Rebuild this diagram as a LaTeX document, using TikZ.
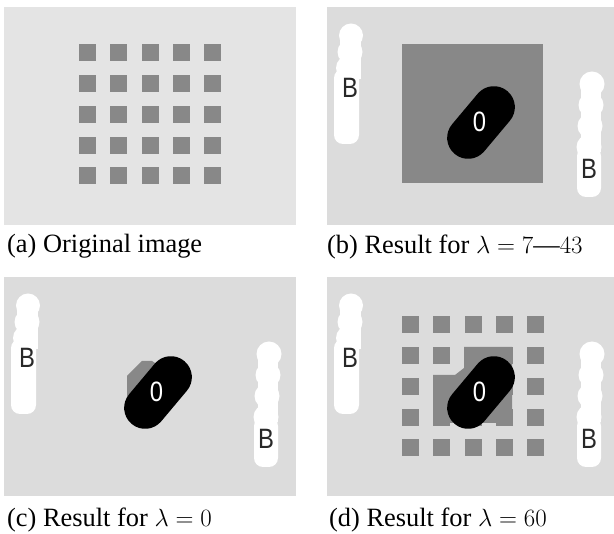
\documentclass[tikz,border=0pt]{standalone}
\usepackage{fontspec}
\setmainfont{Liberation Serif}
\setsansfont{Liberation Sans}

\definecolor{bgorig}{RGB}{228,228,228}
\definecolor{bgres}{RGB}{220,220,220}
\definecolor{sqgray}{RGB}{136,136,136}
\definecolor{lettergray}{RGB}{40,40,40}

\tikzset{
  sq/.style = {fill=sqgray},
  blob/.style = {fill=white},
  capsule/.style = {draw=black, line width=42pt, line cap=round},
  caption/.style = {anchor=base west, inner sep=0pt, font=\fontsize{26.4}{30}\selectfont},
  letterB/.style = {font=\sffamily\fontsize{28}{28}\selectfont, text=lettergray, inner sep=0pt, xscale=0.85},
  letterO/.style = {font=\sffamily\fontsize{28}{28}\selectfont, text=white, inner sep=0pt, xscale=0.85},
}

% the two white bars and the black blob, in panel coordinates
\newcommand{\resultmarks}[1]{
  \fill[blob] (24,28.5) circle (12);
  \fill[blob] (23,45) circle (12.5);
  \fill[blob] (21.5,61) circle (12.5);
  \fill[blob] (12.5,28) rectangle (34,72);
  \fill[blob, rounded corners=9] (7,62) rectangle (32,137);
  \fill[blob] (265,77) circle (12.5);
  \fill[blob] (264,98) circle (12.5);
  \fill[blob] (263,119) circle (12.5);
  \fill[blob] (262,140) circle (12.5);
  \fill[blob] (254,77) rectangle (274,145);
  \fill[blob, rounded corners=9] (250,140) rectangle (274,190);
  \coordinate (#1-mid) at (154,115.5);
  \draw[capsule] ([shift={(-50:20)}]#1-mid) -- ([shift={(130:20)}]#1-mid);
  \node[letterO] (#1-zero) at (152.5,114.5) {0};
  \node[letterB] (#1-bl) at (23,81) {B};
  \node[letterB] (#1-br) at (262,162) {B};
}

\begin{document}
\begin{tikzpicture}[x=1pt, y=-1pt]
\useasboundingbox (0,0) rectangle (614,534);

% (a)
\begin{scope}[shift={(4,7)}]
\fill[bgorig] (0,0) rectangle (292,218);
\foreach \i in {0,...,4}
  \foreach \j in {0,...,4}
    \fill[sq] (75+31.3*\i,37.3+30.75*\j) rectangle ++(17,17);
\end{scope}
\node[caption] (capa) at (7,253) {(a) Original image};

% (b)
\begin{scope}[shift={(327,7)}]
\fill[bgres] (0,0) rectangle (287,218);
\fill[sq] (75,37) rectangle (216,176);
\resultmarks{b}
\end{scope}
\node[caption] (capb) at (327,254) {(b) Result for $\lambda = 7$---$43$};

% (c)
\begin{scope}[shift={(4,277)}]
\fill[bgres] (0,0) rectangle (292,219);
\fill[sq] (123,119) -- (123,99) -- (138,84) -- (148,84) -- (165,95) -- (140,130) -- cycle;
\resultmarks{c}
\end{scope}
\node[caption] (capc) at (7,527) {(c) Result for $\lambda = 0$};

% (d)
\begin{scope}[shift={(327,277)}]
\fill[bgres] (0,0) rectangle (287,219);
\foreach \i in {0,...,4}
  \foreach \j in {0,...,4}
    \fill[sq] (75+31.3*\i,39.3+30.75*\j) rectangle ++(17,17);
\fill[sq] (137,70) -- (185,70) -- (185,146) -- (106,146) -- (106,98)
  -- (128,98) -- (137,91) -- cycle;
\resultmarks{d}
\end{scope}
\node[caption] (capd) at (329,527) {(d) Result for $\lambda = 60$};
\end{tikzpicture}
\end{document}
